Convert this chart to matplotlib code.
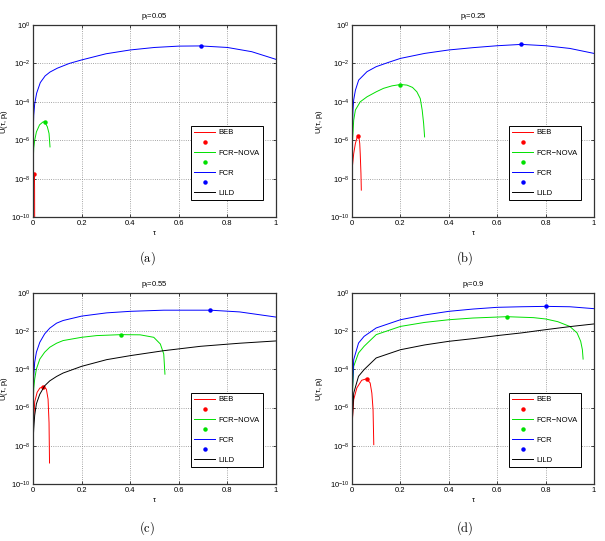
import numpy as np
import matplotlib
matplotlib.use("Agg")
import matplotlib.pyplot as plt
from matplotlib.ticker import FixedLocator, NullLocator

plt.rcParams['font.family'] = ['Liberation Sans', 'DejaVu Sans']
plt.rcParams['mathtext.fontset'] = 'custom'
plt.rcParams['mathtext.rm'] = 'Liberation Sans'
plt.rcParams['mathtext.it'] = 'Liberation Sans'

# values: tau and log10 U(tau, p_l)
titles = ['p$_l$=0.05', 'p$_l$=0.25', 'p$_l$=0.55', 'p$_l$=0.9']
captions = ['(a)', '(b)', '(c)', '(d)']

# p_l = 0.05
beb_a_tau = [0.0005, 0.002, 0.004, 0.0055, 0.0065, 0.007]
beb_a_logu = [-9.9, -8.2, -7.8, -7.74, -8.4, -10.5]
nova_a_tau = [0.0, 0.003, 0.007, 0.014, 0.027, 0.041, 0.048, 0.059, 0.066, 0.070]
nova_a_logu = [-7.4, -6.4, -6.0, -5.57, -5.2, -5.05, -5.04, -5.3, -5.65, -6.35]
fcr_a_tau = [0.0, 0.001, 0.003, 0.007, 0.015, 0.03, 0.05, 0.07, 0.1, 0.15, 0.2, 0.3, 0.4, 0.5, 0.6, 0.69, 0.8, 0.9, 1.0]
fcr_a_logu = [-6.2, -5.5, -4.7, -4.1, -3.55, -3.0, -2.65, -2.45, -2.25, -2.0, -1.82, -1.5, -1.3, -1.17, -1.1, -1.09, -1.17, -1.39, -1.79]
lild_a_tau = []
lild_a_logu = []

# p_l = 0.25
beb_b_tau = [0.0, 0.007, 0.014, 0.021, 0.025, 0.029, 0.032, 0.034, 0.037, 0.0385]
beb_b_logu = [-7.57, -6.7, -6.17, -5.86, -5.79, -5.9, -6.17, -6.7, -7.74, -8.6]
nova_b_tau = [0.0, 0.007, 0.014, 0.034, 0.062, 0.1, 0.13, 0.165, 0.2, 0.227, 0.25, 0.268, 0.282, 0.29, 0.296, 0.3]
nova_b_logu = [-6.5, -4.96, -4.43, -4.0, -3.74, -3.48, -3.3, -3.17, -3.1, -3.13, -3.25, -3.48, -3.83, -4.43, -5.13, -5.83]
fcr_b_tau = [0.0, 0.004, 0.007, 0.014, 0.0275, 0.062, 0.1, 0.15, 0.2, 0.3, 0.4, 0.5, 0.6, 0.7, 0.8, 0.9, 1.0]
fcr_b_logu = [-6.0, -4.43, -3.9, -3.4, -2.87, -2.43, -2.17, -1.95, -1.74, -1.48, -1.3, -1.18, -1.08, -1.01, -1.08, -1.22, -1.48]
lild_b_tau = []
lild_b_logu = []

# p_l = 0.55
beb_c_tau = [0.0, 0.007, 0.017, 0.028, 0.041, 0.055, 0.062, 0.066, 0.068]
beb_c_logu = [-7.3, -5.7, -5.2, -4.98, -4.91, -5.03, -5.56, -6.79, -8.9]
nova_c_tau = [0.0, 0.003, 0.007, 0.014, 0.028, 0.048, 0.069, 0.097, 0.124, 0.2, 0.262, 0.363, 0.441, 0.497, 0.524, 0.538, 0.543]
nova_c_logu = [-6.1, -5.0, -4.5, -3.98, -3.46, -3.1, -2.84, -2.63, -2.49, -2.32, -2.23, -2.18, -2.19, -2.32, -2.67, -3.19, -4.25]
fcr_c_tau = [0.0, 0.003, 0.007, 0.014, 0.028, 0.048, 0.069, 0.097, 0.124, 0.2, 0.303, 0.4, 0.538, 0.73, 0.85, 1.0]
fcr_c_logu = [-5.7, -4.33, -3.63, -3.1, -2.58, -2.14, -1.84, -1.58, -1.44, -1.21, -1.04, -0.96, -0.9, -0.9, -0.99, -1.26]
lild_c_tau = [0.0, 0.003, 0.007, 0.014, 0.028, 0.048, 0.069, 0.097, 0.124, 0.2, 0.303, 0.4, 0.538, 0.69, 0.85, 1.0]
lild_c_logu = [-7.9, -7.1, -6.4, -5.8, -5.3, -4.86, -4.6, -4.37, -4.19, -3.84, -3.49, -3.28, -3.02, -2.79, -2.63, -2.51]

# p_l = 0.9
beb_d_tau = [0.0, 0.007, 0.02, 0.04, 0.06, 0.075, 0.082, 0.087, 0.09]
beb_d_logu = [-7.0, -5.58, -4.97, -4.57, -4.49, -4.71, -5.24, -6.1, -7.94]
nova_d_tau = [0.0, 0.007, 0.027, 0.05, 0.1, 0.2, 0.3, 0.4, 0.5, 0.64, 0.75, 0.8, 0.85, 0.9, 0.93, 0.945, 0.952, 0.955]
nova_d_logu = [-5.76, -3.84, -3.14, -2.79, -2.18, -1.75, -1.54, -1.4, -1.31, -1.24, -1.29, -1.36, -1.5, -1.75, -2.09, -2.53, -2.97, -3.46]
fcr_d_tau = [0.0, 0.007, 0.027, 0.05, 0.1, 0.2, 0.3, 0.4, 0.5, 0.6, 0.7, 0.8, 0.9, 1.0]
fcr_d_logu = [-5.58, -3.49, -2.62, -2.27, -1.83, -1.4, -1.15, -0.96, -0.84, -0.75, -0.72, -0.7, -0.72, -0.82]
lild_d_tau = [0.0, 0.007, 0.027, 0.05, 0.1, 0.2, 0.3, 0.4, 0.5, 0.6, 0.7, 0.8, 0.9, 1.0]
lild_d_logu = [-7.0, -5.24, -4.36, -4.01, -3.4, -2.97, -2.72, -2.53, -2.39, -2.23, -2.09, -1.92, -1.76, -1.62]

# optimum points (tau, log10 U) for BEB, FCR-NOVA, FCR
peaks_a = [(0.005, -7.74), (0.048, -5.04), (0.69, -1.09)]
peaks_b = [(0.025, -5.79), (0.2, -3.1), (0.70, -1.01)]
peaks_c = [(0.041, -4.91), (0.363, -2.18), (0.73, -0.9)]
peaks_d = [(0.06, -4.49), (0.64, -1.24), (0.80, -0.70)]

panels = [
    (beb_a_tau, beb_a_logu, nova_a_tau, nova_a_logu, fcr_a_tau, fcr_a_logu, lild_a_tau, lild_a_logu, peaks_a),
    (beb_b_tau, beb_b_logu, nova_b_tau, nova_b_logu, fcr_b_tau, fcr_b_logu, lild_b_tau, lild_b_logu, peaks_b),
    (beb_c_tau, beb_c_logu, nova_c_tau, nova_c_logu, fcr_c_tau, fcr_c_logu, lild_c_tau, lild_c_logu, peaks_c),
    (beb_d_tau, beb_d_logu, nova_d_tau, nova_d_logu, fcr_d_tau, fcr_d_logu, lild_d_tau, lild_d_logu, peaks_d),
]

colors = ['#ff0000', '#00e000', '#0000ff']
W, H = 605, 541
# axes boxes in pixels: left, top, right, bottom
boxes = [(33, 25, 276, 217), (352, 25, 594, 217), (33, 293, 276, 484), (352, 293, 594, 484)]
ylab_x = [10, 325, 10, 325]
cap_pos = [(147, 258), (465, 258), (147, 528), (465, 528)]

fig = plt.figure(figsize=(W / 100, H / 100), dpi=100)

for i, p in enumerate(panels):
    l, t, r, b = boxes[i]
    ax = fig.add_axes([l / W, 1 - b / H, (r - l) / W, (b - t) / H])
    beb_t, beb_u, nova_t, nova_u, fcr_t, fcr_u, lild_t, lild_u, peaks = p
    handles = []
    labels = []
    names = ['BEB', 'FCR\u2212NOVA', 'FCR']
    curves = [(beb_t, beb_u), (nova_t, nova_u), (fcr_t, fcr_u)]
    for k in range(3):
        ln, = ax.plot(curves[k][0], 10.0 ** np.array(curves[k][1]), color=colors[k], lw=0.7)
        mk, = ax.plot([peaks[k][0]], [10.0 ** peaks[k][1]], ls='none', marker='o',
                      ms=2.2, color=colors[k])
        handles += [ln, mk]
        labels += [names[k], ' ']
    ln, = ax.plot(lild_t, 10.0 ** np.array(lild_u, dtype=float), color='black', lw=0.7)
    handles.append(ln)
    labels.append('LILD')

    ax.set_yscale('log')
    ax.set_xlim(0, 1)
    ax.set_ylim(1e-10, 1)
    ax.set_xticks([0, 0.2, 0.4, 0.6, 0.8, 1])
    ax.set_xticklabels(['0', '0.2', '0.4', '0.6', '0.8', '1'])
    ax.yaxis.set_major_locator(FixedLocator([1e-10, 1e-8, 1e-6, 1e-4, 1e-2, 1]))
    ax.yaxis.set_minor_locator(NullLocator())
    ax.set_yticklabels(['10$^{-10}$', '10$^{-8}$', '10$^{-6}$', '10$^{-4}$', '10$^{-2}$', '10$^{0}$'])
    ax.tick_params(direction='in', length=2, width=0.5, labelsize=5.5, top=True, right=True, pad=2)
    ax.grid(True, ls=':', lw=0.6, color='#888888')
    for s in ax.spines.values():
        s.set_linewidth(0.9)
        s.set_color('#333333')
    ax.set_title(titles[i], fontsize=5.5, pad=5)
    ax.set_xlabel('\u03c4', fontsize=5.5, labelpad=2)
    ax.set_ylabel('U(\u03c4, p$_l$)', fontsize=5.5)
    ax.yaxis.set_label_coords((ylab_x[i] - l) / (r - l), 0.5)

    leg = ax.legend(handles, labels, loc='lower right', bbox_to_anchor=(1 - 13 / 242, 17 / 192),
                    borderaxespad=0, fontsize=5.5, handlelength=2.7, handletextpad=0.5,
                    labelspacing=0.36, fancybox=False, framealpha=1, borderpad=0.4)
    leg.get_frame().set_edgecolor('black')
    leg.get_frame().set_linewidth(0.7)

    cx, cy = cap_pos[i]
    fig.text(cx / W, 1 - cy / H, r'$\mathrm{' + captions[i] + '}$', ha='center', va='center',
             fontsize=9, math_fontfamily='cm')

fig.savefig('out.png', dpi=100)
